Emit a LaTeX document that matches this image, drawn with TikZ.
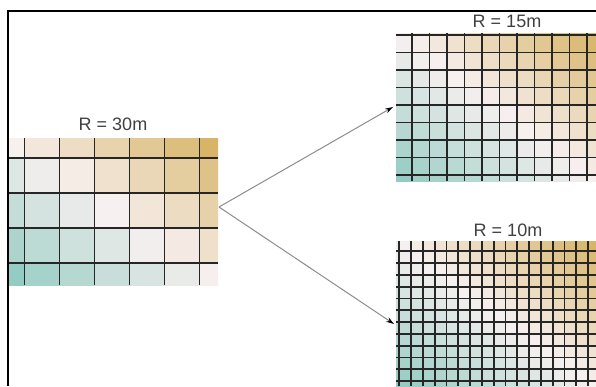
\documentclass[tikz,border=0pt]{standalone}
\usepackage{fontspec}
\newfontfamily\labelfont{Liberation Sans}
\usetikzlibrary{arrows.meta}
\definecolor{sand}{RGB}{214,178,98}
\definecolor{seateal}{RGB}{144,202,192}
\definecolor{cellmid}{RGB}{247,240,240}

% raster with cells coloured from teal (lower left) to sand (upper right)
% #1 left, #2 top, #3 right, #4 bottom, #5 first x line, #6 first y line, #7 cell size
\newcommand{\rastergrid}[7]{%
  \begin{scope}
    \clip (#1,#2) rectangle (#3,#4);
    \pgfmathtruncatemacro\nx{ceil((#3-#5)/#7)}
    \pgfmathtruncatemacro\ny{ceil((#4-#6)/#7)}
    \foreach \i in {-1,...,\nx} {
      \foreach \j in {-1,...,\ny} {
        \pgfmathsetmacro\u{min(max((#5+(\i+0.5)*#7-#1)/(#3-#1),0),1)}
        \pgfmathsetmacro\w{min(max((#4-#6-(\j+0.5)*#7)/(#4-#2),0),1)}
        \pgfmathsetmacro\v{\u+\w-1}
        \pgfmathtruncatemacro\p{min(100*abs(\v),100)}
        \ifdim\v pt<0pt \colorlet{cellc}{seateal!\p!cellmid}\else\colorlet{cellc}{sand!\p!cellmid}\fi
        \fill[cellc] (#5+\i*#7,#6+\j*#7) rectangle ++(#7,#7);
      }
    }
    \foreach \i in {0,...,\nx} \draw[gridline] (#5+\i*#7,#2) -- (#5+\i*#7,#4);
    \foreach \j in {0,...,\ny} \draw[gridline] (#1,#6+\j*#7) -- (#3,#6+\j*#7);
  \end{scope}}

\begin{document}
\begin{tikzpicture}[x=1pt, y=-1pt,
    gridline/.style={line width=1.7pt, black!85},
    maplabel/.style={font=\labelfont\fontsize{18}{20}\selectfont, text=black!75, inner sep=0pt},
    flow/.style={line width=1pt, black!45, -{Stealth[black, length=8pt, width=5pt]}}]
  \useasboundingbox (0,0) rectangle (596,386);

  % coarse, medium and fine rasters
  \rastergrid{8}{138}{218}{285}{24.5}{158}{35}
  \rastergrid{396}{33}{596}{181}{412}{35}{17.5}
  \rastergrid{396}{241}{596}{386}{399.3}{251.3}{11.8}

  % frame
  \draw[line width=2pt] (8,386) -- (8,11) -- (596,11);

  \node[maplabel] (lab30) at (113,124) {R = 30m};
  \node[maplabel] (lab15) at (507,21) {R = 15m};
  \node[maplabel] (lab10) at (508,230) {R = 10m};

  \coordinate (src) at (219,207);
  \coordinate (in15) at (393,107);
  \coordinate (in10) at (394,324);
  \draw[flow] (src) -- (in15);
  \draw[flow] (src) -- (in10);
\end{tikzpicture}
\end{document}
